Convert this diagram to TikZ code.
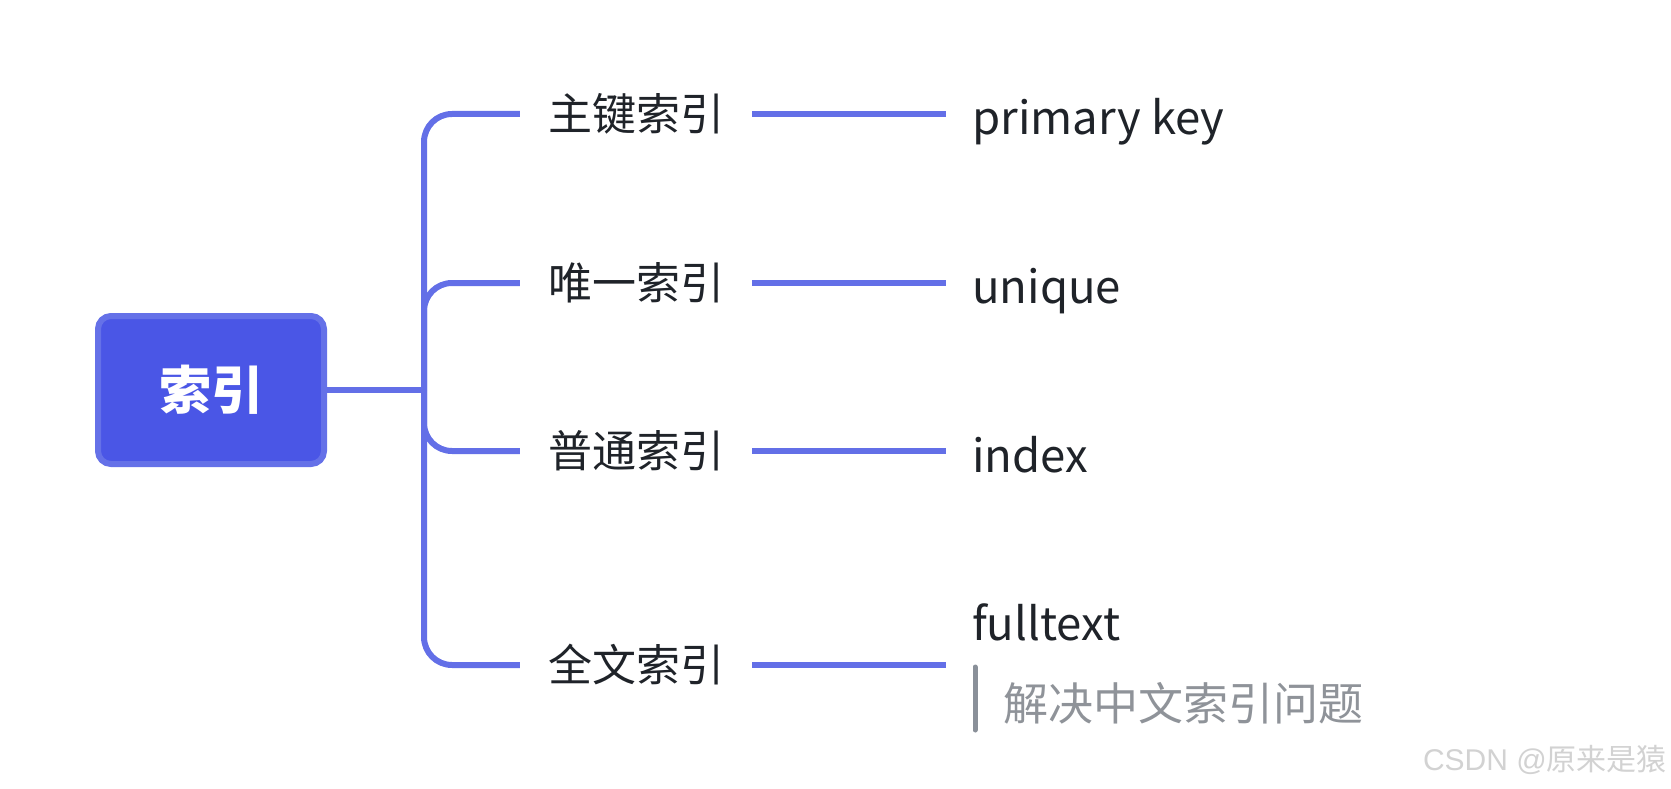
\documentclass[tikz,border=0pt]{standalone}
\usepackage{fontspec}
\setmainfont{Noto Sans CJK SC}
\newfontfamily\wmlatin{Liberation Sans}
\definecolor{lineblue}{RGB}{99,111,231}
\definecolor{rootfill}{RGB}{74,86,230}
\definecolor{rootedge}{RGB}{101,113,232}
\definecolor{txt}{RGB}{31,35,41}
\definecolor{notegray}{RGB}{143,147,153}
\definecolor{barcol}{RGB}{138,144,153}
\definecolor{wm}{RGB}{210,210,210}
\tikzset{
  rootbox/.style={draw=rootedge, fill=rootfill, line width=6pt, rounded corners=13pt,
    minimum width=226pt, minimum height=148pt, inner sep=0pt, text=white,
    font=\fontsize{52}{60}\selectfont\bfseries},
  branch/.style={draw=lineblue, line width=6pt},
  lbl/.style={inner xsep=28pt, inner ysep=0pt, text=txt, font=\fontsize{44}{52}\selectfont},
  leaf/.style={inner xsep=26pt, inner ysep=0pt, text=txt, font=\fontsize{45.5}{54}\selectfont, anchor=base west},
  note/.style={inner sep=0pt, text=notegray, font=\fontsize{45}{54}\selectfont, anchor=west},
  notebar/.style={draw=barcol, line width=5pt, line cap=round},
  wmark/.style={inner sep=0pt, text=wm, font=\fontsize{30}{36}\selectfont, anchor=east}
}
\begin{document}
\begin{tikzpicture}[x=1pt,y=-1pt]
\useasboundingbox (0,0) rectangle (1671,789);
\node[rootbox] (root) at (211,390) {\raisebox{-3pt}{索引}};
\coordinate (j) at (424,390);
\node[lbl] (l1) at (636,114) {\raisebox{-4pt}{主键索引}};
\node[lbl] (l2) at (636,283) {\raisebox{-4pt}{唯一索引}};
\node[lbl] (l3) at (636,451) {\raisebox{-4pt}{普通索引}};
\node[lbl] (l4) at (636,665) {\raisebox{-4pt}{全文索引}};
\node[leaf] (r1) at (946,135) {primary key};
\node[leaf] (r2) at (946,303) {unique};
\node[leaf] (r3) at (946,472) {index};
\node[leaf] (r4) at (946,640) {fulltext};
\draw[branch] (root.east) -- (j);
\foreach \i in {1,2,3,4}{
  \draw[branch, rounded corners=28pt] (j) |- (l\i.west);
  \draw[branch] (l\i.east) -- (l\i.east -| r\i.west);
}
\coordinate (bt) at (975,667);
\coordinate (bb) at (975,730);
\draw[notebar] (bt) -- (bb);
\node[note] (n4) at (1003,703) {\raisebox{-4pt}{解决中文索引问题}};
\node[wmark] (wm) at (1667,760) {{\wmlatin CSDN @}原来是猿};
\end{tikzpicture}
\end{document}
